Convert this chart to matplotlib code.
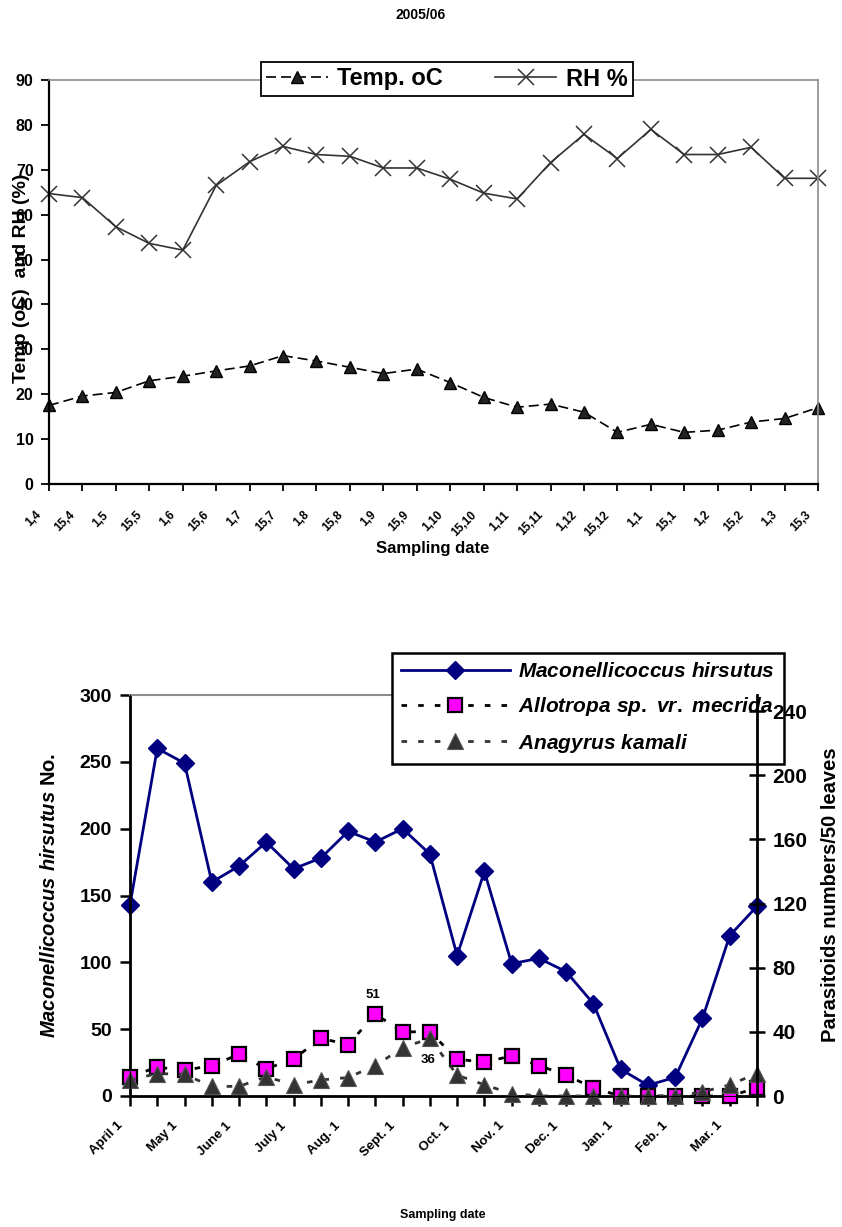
import matplotlib
matplotlib.use('Agg')
import matplotlib.pyplot as plt
from matplotlib.transforms import ScaledTranslation

# ---- top chart data (weather, 2005/06) ----
dates = ['1,4', '15,4', '1,5', '15,5', '1,6', '15,6', '1,7', '15,7', '1,8', '15,8',
         '1,9', '15,9', '1,10', '15,10', '1,11', '15,11', '1,12', '15,12',
         '1,1', '15,1', '1,2', '15,2', '1,3', '15,3']
temp = [17.5, 19.6, 20.4, 23.0, 24.0, 25.2, 26.3, 28.6, 27.4, 26.0, 24.6, 25.6,
        22.6, 19.3, 17.1, 17.8, 16.0, 11.5, 13.3, 11.5, 12.0, 13.8, 14.6, 17.0]
rh = [64.7, 63.8, 57.3, 53.6, 52.1, 66.5, 71.8, 75.2, 73.4, 73.0, 70.4, 70.4,
      67.9, 64.8, 63.5, 71.6, 77.9, 72.5, 79.0, 73.4, 73.4, 75.0, 68.1, 68.1]

# ---- bottom chart data ----
months = ['April 1', 'May 1', 'June 1', 'July 1', 'Aug. 1', 'Sept. 1', 'Oct. 1',
          'Nov. 1', 'Dec. 1', 'Jan. 1', 'Feb. 1', 'Mar. 1']
mealybug = [143, 260, 249, 160, 172, 190, 170, 178, 198, 190, 200, 181,
            105, 168, 99, 103, 93, 69, 20, 8, 14, 58, 120, 142]
allotropa = [12, 18, 16, 19, 26, 17, 23, 36, 32, 51, 40, 40,
             23, 21, 25, 19, 13, 5, 0, 0, 0, 0, 0, 5]
anagyrus = [10, 14, 13.5, 6, 6, 12, 7, 10, 11.5, 19, 30, 36,
            13, 7, 1.5, 0, 0, 0, 0, 0, 0, 2.5, 7, 14]

narrow = ['Liberation Sans Narrow', 'Liberation Sans']
plt.rcParams['font.family'] = ['Liberation Sans', 'DejaVu Sans']
plt.rcParams['font.weight'] = 'bold'
plt.rcParams['mathtext.fontset'] = 'custom'
plt.rcParams['mathtext.it'] = 'Liberation Sans:italic:bold'
plt.rcParams['mathtext.rm'] = 'Liberation Sans:bold'

W, H = 842, 1227
fig = plt.figure(figsize=(W / 100, H / 100), dpi=100)


def px(x0, y0, x1, y1):
    return [x0 / W, 1 - y1 / H, (x1 - x0) / W, (y1 - y0) / H]


# ================= top chart =================
ax = fig.add_axes(px(49, 80, 818, 484))
xs = list(range(len(dates)))
l1, = ax.plot(xs, temp, color='black', lw=1.2, ls=(0, (6, 3)), marker='^', ms=8,
              mfc='#222222', mec='black', label='Temp. oC', clip_on=False)
l2, = ax.plot(xs, rh, color='#333333', lw=1.2, marker='x', ms=11, mew=1.1,
              label='RH %', clip_on=False)
ax.set_xlim(0, 23)
ax.set_ylim(0, 90)
ax.set_yticks(range(0, 91, 10))
ax.set_xticks(xs)
ax.set_xticklabels(dates, rotation=45, ha='right', va='top', fontsize=8.5,
                   family=narrow)
for lab in ax.get_yticklabels():
    lab.set_family(narrow)
    lab.set_fontsize(11.5)
ax.tick_params(axis='y', length=6, width=1.3, pad=5)
ax.tick_params(axis='x', length=5, width=1.3, pad=13)
off = ScaledTranslation(-5 / 100, 0, fig.dpi_scale_trans)
for lab in ax.get_xticklabels():
    lab.set_transform(lab.get_transform() + off)
for s in ['top', 'right']:
    ax.spines[s].set_color('#8c8c8c')
    ax.spines[s].set_linewidth(1.2)
for s in ['left', 'bottom']:
    ax.spines[s].set_linewidth(1.6)
fig.text(22 / W, 1 - 278 / H, 'Temp (oC)  and RH (%)', rotation=90, ha='center',
         va='center', fontsize=14, family=narrow)
fig.text(433 / W, 1 - 548 / H, 'Sampling date', ha='center', va='center',
         fontsize=12, family=narrow)
fig.text(421 / W, 1 - 15 / H, '2005/06', ha='center', va='center', fontsize=10,
         family=narrow)
leg = ax.legend(handles=[l1, l2], loc='center', ncol=2,
                bbox_to_anchor=(447 / W, 1 - 79 / H), bbox_transform=fig.transFigure,
                prop={'family': narrow, 'weight': 'bold', 'size': 17},
                handlelength=2.6, columnspacing=2.2, handletextpad=0.4,
                borderpad=0.25, fancybox=False, framealpha=1)
leg.get_frame().set_edgecolor('black')
leg.get_frame().set_linewidth(1.3)

# ================= bottom chart =================
ax1 = fig.add_axes(px(130, 695, 757, 1096))
ax2 = ax1.twinx()
xb = list(range(len(mealybug)))
m1, = ax1.plot(xb, mealybug, color='#000080', lw=2, marker='D', ms=9,
               label=r'$\mathit{Maconellicoccus\ hirsutus}$', clip_on=False)
m2, = ax2.plot(xb, allotropa, color='black', lw=2, ls=(0, (2, 4)), marker='s',
               ms=10, mfc='#ff00ff', mec='black', mew=1.6, clip_on=False,
               label=r'$\mathit{Allotropa\ sp.\ vr.\ mecrida}$')
m3, = ax2.plot(xb, anagyrus, color='#333333', lw=2, ls=(0, (2, 4)), marker='^',
               ms=12, mfc='#333333', mec='#555555', mew=0.8, clip_on=False,
               label=r'$\mathit{Anagyrus\ kamali}$')
ax1.set_xlim(0, 23)
ax1.set_ylim(0, 300)
ax2.set_ylim(0, 250)
ax1.set_yticks(range(0, 301, 50))
ax2.set_yticks(range(0, 241, 40))
ax1.set_xticks(xb[::2])
ax1.set_xticks(xb, minor=True)
ax1.set_xticklabels(months, rotation=45, ha='right', va='top', fontsize=9.5)
ax1.tick_params(axis='x', which='both', length=7, width=1.8, pad=10)
ax1.tick_params(axis='y', length=7, width=1.8, pad=6, labelsize=14)
ax2.tick_params(axis='y', direction='inout', length=12, width=1.8, pad=5,
                labelsize=15)
for lab in ax1.get_xticklabels():
    lab.set_transform(lab.get_transform() + off)
ax1.spines['top'].set_color('#8c8c8c')
ax1.spines['top'].set_linewidth(1.5)
ax2.spines['top'].set_visible(False)
for s in ['left', 'bottom']:
    ax1.spines[s].set_linewidth(2)
ax2.spines['right'].set_linewidth(2)
ax1.spines['right'].set_visible(False)

ax2.annotate(str(allotropa[9]), (9, allotropa[9]), xytext=(-2, 19),
             textcoords='offset pixels', ha='center', va='center', fontsize=9.5)
ax2.annotate(str(anagyrus[11]), (11, anagyrus[11]), xytext=(-2, -22),
             textcoords='offset pixels', ha='center', va='center', fontsize=9.5)

fig.text(50 / W, 1 - 895 / H, r'$\mathit{Maconellicoccus\ hirsutus}$ No.',
         rotation=90, ha='center', va='center', fontsize=14.5)
fig.text(830 / W, 1 - 895 / H, 'Parasitoids numbers/50 leaves', rotation=90,
         ha='center', va='center', fontsize=14.5)
fig.text(443 / W, 1 - 1215 / H, 'Sampling date', ha='center', va='center',
         fontsize=9)

leg2 = ax1.legend(handles=[m1, m2, m3], loc='center',
                  bbox_to_anchor=(588 / W, 1 - 708.5 / H),
                  bbox_transform=fig.transFigure,
                  prop={'weight': 'bold', 'size': 15}, handlelength=5.2,
                  handletextpad=0.4, labelspacing=0.65, borderpad=0.45,
                  borderaxespad=0, fancybox=False, framealpha=1)
leg2.get_frame().set_edgecolor('black')
leg2.get_frame().set_linewidth(1.8)

fig.savefig('out.png', dpi=100)
